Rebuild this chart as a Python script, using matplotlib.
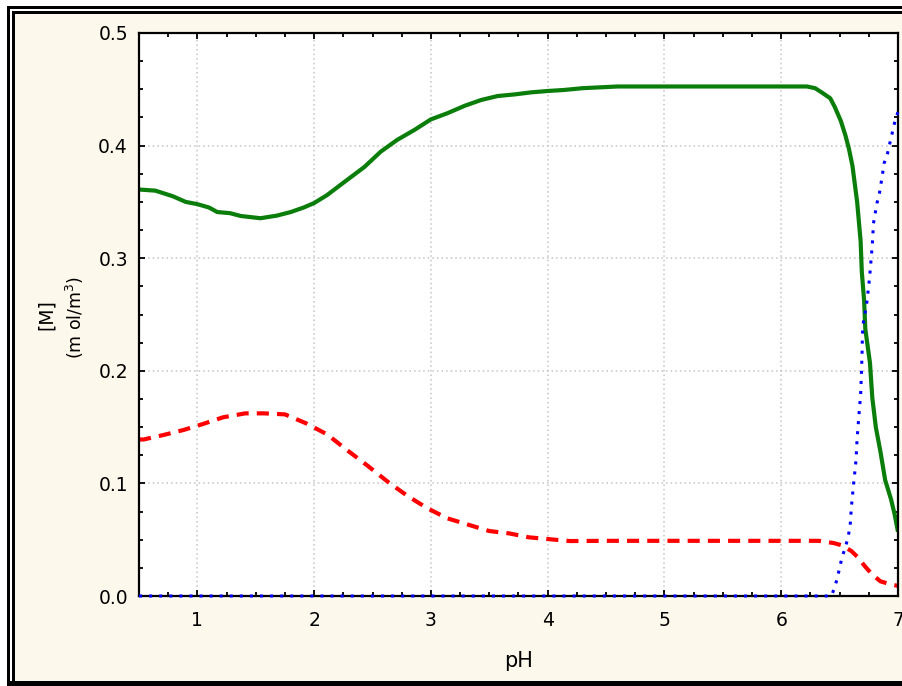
import matplotlib
matplotlib.use("Agg")
import matplotlib.pyplot as plt
from matplotlib.patches import Rectangle
from matplotlib.ticker import MultipleLocator

# --- data -------------------------------------------------------------
ph_green = [0.50, 0.64, 0.79, 0.90, 1.00, 1.10, 1.17, 1.28, 1.37, 1.54, 1.68,
            1.80, 1.91, 2.00, 2.11, 2.25, 2.43, 2.57, 2.71, 2.86, 3.00, 3.14,
            3.29, 3.43, 3.57, 3.72, 3.86, 4.00, 4.14, 4.30, 4.60, 5.00, 5.50,
            6.00, 6.22, 6.29, 6.35, 6.42, 6.46, 6.51, 6.55, 6.58, 6.61, 6.65,
            6.68, 6.69, 6.71, 6.72, 6.76, 6.78, 6.81, 6.85, 6.89, 6.94, 6.97,
            7.00]
m_green = [0.361, 0.360, 0.355, 0.350, 0.348, 0.345, 0.341, 0.340, 0.3375,
           0.3355, 0.3378, 0.341, 0.345, 0.349, 0.356, 0.367, 0.381, 0.3946,
           0.405, 0.414, 0.4233, 0.4287, 0.4354, 0.4405, 0.444, 0.4455, 0.4473,
           0.4485, 0.4494, 0.451, 0.4525, 0.4525, 0.4525, 0.4525, 0.4525,
           0.451, 0.447, 0.442, 0.434, 0.422, 0.409, 0.397, 0.382, 0.350,
           0.315, 0.288, 0.262, 0.237, 0.207, 0.176, 0.150, 0.128, 0.103,
           0.086, 0.073, 0.057]

ph_red = [0.50, 0.54, 0.71, 0.88, 1.04, 1.22, 1.41, 1.57, 1.75, 1.93, 2.11,
          2.28, 2.46, 2.63, 2.80, 2.97, 3.14, 3.33, 3.50, 3.67, 3.84, 4.02,
          4.19, 4.50, 5.00, 5.50, 6.00, 6.32, 6.45, 6.52, 6.60, 6.65, 6.72,
          6.78, 6.85, 6.95, 7.00]
m_red = [0.139, 0.139, 0.143, 0.1474, 0.1525, 0.1587, 0.1622, 0.1622, 0.1613,
         0.1534, 0.1436, 0.1297, 0.1155, 0.1015, 0.0888, 0.0779, 0.069, 0.063,
         0.0577, 0.0556, 0.0521, 0.0504, 0.0488, 0.049, 0.049, 0.049, 0.049,
         0.049, 0.047, 0.045, 0.040, 0.035, 0.026, 0.019, 0.013, 0.010, 0.009]

ph_blue = [0.50, 6.00, 6.43, 6.455, 6.478, 6.50, 6.52, 6.545, 6.57, 6.59,
           6.60, 6.62, 6.64, 6.65, 6.665, 6.68, 6.687, 6.692, 6.695, 6.70,
           6.73, 6.75, 6.76, 6.78, 6.79, 6.82, 6.84, 6.865, 6.88, 6.91, 6.93,
           6.95, 6.97, 7.00]
m_blue = [0.0, 0.0, 0.0, 0.007, 0.015, 0.025, 0.034, 0.042, 0.051, 0.062,
          0.078, 0.100, 0.120, 0.140, 0.160, 0.179, 0.198, 0.215, 0.231,
          0.241, 0.258, 0.276, 0.287, 0.312, 0.331, 0.349, 0.357, 0.373,
          0.384, 0.393, 0.402, 0.411, 0.420, 0.430]

x_ticks = [1, 2, 3, 4, 5, 6, 7]
y_ticks = [0.0, 0.1, 0.2, 0.3, 0.4, 0.5]
x_label = "pH"
y_label_top = "[M]"
y_label_unit = "(m ol/m$^{3}$)"

# --- figure -----------------------------------------------------------
W, H = 903, 686
fig = plt.figure(figsize=(W / 100, H / 100), dpi=100, facecolor="white")


def px_rect(x0, y0, x1, y1, color):
    """Rectangle given in pixel coords measured from the top-left corner."""
    fig.add_artist(Rectangle((x0 / W, 1 - y1 / H), (x1 - x0) / W, (y1 - y0) / H,
                             transform=fig.transFigure, facecolor=color,
                             edgecolor="none", zorder=0))


cream = "#FDF8EC"
px_rect(15, 14, W, 681, cream)
# double frame
px_rect(7, 6, W, 9, "black")
px_rect(7, 6, 9.5, H, "black")
px_rect(12, 11, W, 14, "black")
px_rect(12, 11, 15, H, "black")
px_rect(7, 681, W, H, "black")

ax = fig.add_axes([139 / W, 1 - 596 / H, (898 - 139) / W, (596 - 33) / H])
ax.set_facecolor("white")

ax.plot(ph_green, m_green, color="#0A7D0A", lw=3.0, solid_capstyle="butt",
        zorder=3)
ax.plot(ph_red, m_red, color="#FF0000", lw=3.0, linestyle=(0, (2.9, 1.95)),
        dash_capstyle="butt", zorder=3)
ax.plot(ph_blue, m_blue, color="#0000FF", lw=2.2, linestyle=(0, (1, 2.3)),
        dash_capstyle="butt", zorder=4, clip_on=False)

ax.set_xlim(0.5, 7)
ax.set_ylim(0, 0.5)
ax.set_xticks(x_ticks)
ax.set_yticks(y_ticks)
ax.xaxis.set_minor_locator(MultipleLocator(0.25))
ax.yaxis.set_minor_locator(MultipleLocator(0.025))
ax.set_yticklabels([f"{v:.1f}" for v in y_ticks])

ax.tick_params(which="both", direction="in", top=True, right=True,
               width=1.3, color="black")
ax.tick_params(which="major", length=4)
ax.tick_params(which="minor", length=3)
ax.tick_params(axis="x", which="major", labelsize=13.5, pad=11)
ax.tick_params(axis="y", which="major", labelsize=13.5, pad=8)

ax.grid(True, which="major", color="#C4C4C4", lw=1.1, linestyle=(0, (1, 2)))
ax.set_axisbelow(True)
for s in ax.spines.values():
    s.set_linewidth(1.6)
    s.set_color("black")
    s.set_zorder(3.5)

fig.text(518.5 / W, 1 - 661 / H, x_label, ha="center", va="center",
         fontsize=15)
fig.text(46 / W, 1 - 315 / H, y_label_top, ha="center", va="center",
         rotation=90, fontsize=13.5)
fig.text(75 / W, 1 - 317 / H, y_label_unit, ha="center", va="center",
         rotation=90, fontsize=12.5)

fig.savefig("out.png", dpi=100, facecolor="white")
